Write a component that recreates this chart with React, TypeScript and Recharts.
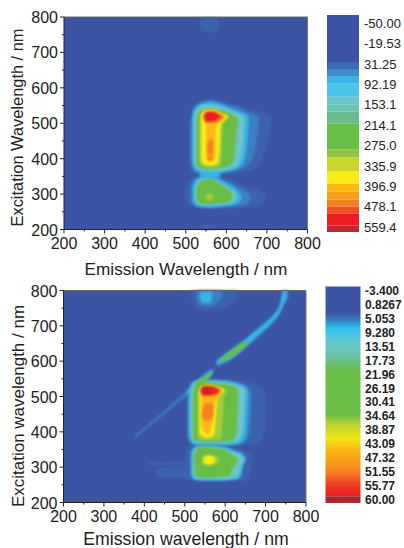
import React from 'react';
import {
  ComposedChart,
  Area,
  Bar,
  XAxis,
  YAxis,
  ReferenceLine,
} from 'recharts';

type Row = [number, number, number]; // emission, excitation low, excitation high

const axisTicks = [200, 250, 300, 350, 400, 450, 500, 550, 600, 650, 700, 750, 800];
const LEVELS = [
  '#3b55a4', '#3e62ad', '#3a80c4', '#36b4e8', '#6cc5c8', '#6abb8e', '#69bd45',
  '#a6cc3a', '#f9ed16', '#fdb813', '#f58220', '#ed1c24', '#b8252a',
];

// top map
const topBack: Row[] = [[200, 200, 800], [800, 200, 800]];
const topPeakFaint: Row[] = [[535, 770, 785], [542, 760, 797], [560, 756, 798], [575, 760, 797], [582, 770, 785]];
const topFootFaint: Row[] = [[540, 200, 212], [555, 200, 216], [575, 200, 212]];
const topHaloUp: Row[] = [[508, 385, 470], [515, 362, 535], [530, 355, 558], [560, 352, 568], [600, 358, 558], [640, 362, 545], [670, 372, 535], [695, 420, 528], [708, 480, 525], [712, 505, 515]];
const topHaloLow: Row[] = [[498, 290, 320], [510, 268, 340], [530, 262, 352], [560, 260, 355], [600, 260, 345], [640, 262, 325], [670, 265, 315], [690, 275, 305], [696, 285, 295]];
const topBlueUp: Row[] = [[512, 395, 500], [520, 365, 545], [535, 358, 557], [560, 355, 565], [600, 360, 553], [630, 368, 545], [655, 385, 530], [672, 430, 525], [680, 500, 520]];
const topBlueLow: Row[] = [[512, 280, 325], [525, 266, 345], [555, 262, 352], [590, 264, 340], [625, 266, 322], [650, 272, 308], [660, 285, 295]];
const topCyanUp: Row[] = [[516, 392, 510], [522, 372, 540], [535, 362, 553], [560, 358, 560], [590, 362, 552], [620, 370, 538], [640, 385, 530], [650, 430, 525], [655, 500, 518]];
const topCyanLow: Row[] = [[517, 280, 320], [525, 268, 340], [545, 263, 350], [570, 263, 348], [595, 266, 335], [620, 270, 318], [635, 280, 300], [638, 288, 295]];
const topNeck: Row[] = [[535, 346, 362], [585, 346, 362]];
const topPaleUp: Row[] = [[520, 385, 520], [528, 370, 542], [545, 365, 552], [570, 363, 552], [600, 368, 540], [625, 378, 530], [640, 420, 522], [645, 500, 515]];
const topPaleLow: Row[] = [[522, 285, 318], [532, 270, 340], [555, 268, 345], [585, 270, 332], [610, 274, 315], [625, 282, 300]];
const topGreenUp: Row[] = [[526, 385, 520], [535, 372, 535], [555, 370, 542], [580, 372, 536], [605, 380, 530], [618, 395, 522], [626, 480, 515], [630, 505, 510]];
const topGreenLow: Row[] = [[527, 285, 315], [537, 273, 338], [560, 272, 342], [585, 274, 328], [605, 278, 312], [615, 285, 298]];
const topLimeSpot: Row[] = [[550, 285, 298], [558, 282, 302], [568, 285, 298]];
const topLime: Row[] = [[534, 385, 520], [542, 378, 538], [565, 376, 540], [587, 382, 530], [592, 500, 528], [606, 515, 522]];
const topYellow: Row[] = [[538, 395, 520], [545, 384, 534], [560, 381, 537], [578, 385, 533], [583, 420, 528], [586, 495, 526], [597, 510, 524], [603, 516, 520]];
const topAmber: Row[] = [[550, 400, 528], [555, 394, 534], [565, 394, 534], [572, 402, 530], [575, 490, 526], [590, 510, 522], [596, 516, 520]];
const topOrangeHead: Row[] = [[543, 512, 524], [550, 501, 532], [565, 501, 534], [582, 505, 529], [594, 515, 520]];
const topOrangeMid: Row[] = [[553, 418, 440], [558, 410, 452], [565, 410, 456], [568, 425, 446]];
const topOrangeFoot: Row[] = [[555, 396, 404], [561, 392, 408], [566, 396, 404]];
const topRed: Row[] = [[546, 515, 522], [553, 505, 531], [565, 505, 532], [576, 509, 527], [585, 516, 520]];

const topBands: [number, Row[]][] = [
  [0, topBack], [1, topPeakFaint], [1, topFootFaint], [1, topHaloUp], [1, topHaloLow],
  [2, topBlueUp], [2, topBlueLow], [3, topCyanUp], [3, topCyanLow], [3, topNeck],
  [4, topPaleUp], [4, topPaleLow], [6, topGreenUp], [6, topGreenLow], [7, topLimeSpot],
  [7, topLime], [8, topYellow], [9, topAmber], [10, topOrangeHead], [10, topOrangeMid], [10, topOrangeFoot],
  [11, topRed],
];

// bottom map
const lowBack: Row[] = [[200, 200, 800], [800, 200, 800]];
const lowFaintA: Row[] = [[410, 306, 314], [520, 303, 316]];
const lowFaintB: Row[] = [[430, 272, 298], [515, 268, 300]];
const lowPeakHalo: Row[] = [[517, 770, 800], [530, 750, 800], [555, 745, 800], [600, 752, 800], [629, 775, 800]];
const lowPeakBlue: Row[] = [[530, 770, 800], [540, 757, 800], [565, 755, 800], [580, 765, 800], [592, 782, 800]];
const lowPeakCyan: Row[] = [[538, 778, 795], [545, 766, 798], [560, 764, 798], [567, 776, 795]];
const lowHaloUp: Row[] = [[505, 385, 500], [515, 365, 530], [540, 360, 550], [600, 360, 548], [660, 362, 540], [690, 375, 525], [698, 420, 510], [700, 490, 500]];
const lowHaloLow: Row[] = [[503, 275, 350], [512, 262, 360], [600, 260, 360], [650, 262, 345], [665, 300, 335]];
const lowStreakFaint: Row[] = [[378, 384, 392], [440, 442, 450], [500, 498, 512], [520, 512, 535]];
const lowBlueUp: Row[] = [[508, 385, 510], [515, 368, 535], [540, 362, 548], [600, 362, 546], [645, 368, 535], [660, 390, 525], [665, 500, 515]];
const lowStreakHalo: Row[] = [[578, 584, 604], [600, 594, 622], [650, 636, 664], [700, 688, 712], [735, 735, 762], [742, 755, 800], [756, 778, 800]];
const lowStreakA: Row[] = [[505, 505, 512], [520, 520, 532], [540, 540, 554], [560, 555, 572], [570, 565, 578]];
const lowStreakB: Row[] = [[580, 590, 600], [600, 598, 618], [620, 612, 635], [650, 640, 660], [680, 672, 690], [700, 692, 708], [720, 715, 731], [735, 738, 756], [745, 762, 800], [752, 780, 800]];
const lowCyanUp: Row[] = [[510, 390, 510], [518, 367, 540], [540, 362, 547], [600, 362, 544], [635, 367, 535], [652, 395, 525], [657, 500, 515]];
const lowCyanLow: Row[] = [[515, 275, 345], [525, 264, 358], [545, 262, 362], [600, 262, 358], [625, 265, 345], [637, 270, 342], [645, 305, 335], [651, 320, 328]];
const lowPaleUp: Row[] = [[514, 390, 510], [522, 372, 538], [540, 368, 544], [600, 368, 540], [630, 372, 532], [645, 410, 525], [650, 500, 518]];
const lowPaleLow: Row[] = [[520, 280, 340], [528, 267, 355], [545, 266, 358], [600, 266, 352], [628, 270, 340], [640, 300, 332], [645, 318, 328]];
const lowGreenUp: Row[] = [[520, 380, 505], [527, 374, 530], [545, 372, 538], [600, 372, 535], [622, 378, 528], [630, 420, 520], [632, 480, 515]];
const lowGreenLow: Row[] = [[524, 285, 335], [532, 272, 355], [548, 270, 358], [590, 272, 352], [610, 275, 340], [620, 300, 332], [630, 312, 327]];
const lowGreenStreakA: Row[] = [[525, 515, 538], [540, 530, 550], [555, 545, 560], [565, 555, 568]];
const lowGreenStreakB: Row[] = [[586, 596, 602], [595, 600, 612], [615, 612, 630], [640, 632, 650], [655, 650, 660]];
const lowLime: Row[] = [[532, 385, 510], [540, 378, 528], [565, 376, 532], [590, 380, 526], [598, 500, 522], [605, 512, 518]];
const lowLimeLens: Row[] = [[543, 308, 330], [557, 304, 336], [572, 306, 333], [585, 314, 326]];
const lowYellow: Row[] = [[537, 395, 515], [543, 388, 528], [557, 383, 531], [572, 390, 528], [577, 440, 526], [582, 500, 525], [596, 512, 520]];
const lowYellowLens: Row[] = [[547, 312, 326], [558, 308, 332], [568, 310, 330], [575, 316, 324]];
const lowAmber: Row[] = [[541, 420, 520], [547, 400, 528], [555, 392, 530], [563, 400, 530], [570, 430, 528], [578, 490, 525], [590, 510, 520]];
const lowOrangeHead: Row[] = [[541, 506, 522], [548, 500, 529], [562, 500, 530], [578, 504, 526], [590, 512, 518]];
const lowOrangeMid: Row[] = [[543, 440, 455], [550, 432, 480], [560, 432, 482], [570, 445, 475]];
const lowRed: Row[] = [[540, 512, 520], [546, 504, 528], [560, 504, 528], [575, 508, 525], [584, 514, 519]];
const lowCore: Row[] = [[546, 512, 518], [552, 508, 523], [558, 510, 522], [563, 513, 518]];

const lowBands: [number, Row[]][] = [
  [0, lowBack], [1, lowFaintA], [1, lowFaintB], [1, lowPeakHalo], [2, lowPeakBlue], [3, lowPeakCyan],
  [1, lowHaloUp], [1, lowHaloLow], [2, lowStreakFaint], [2, lowStreakHalo], [2, lowBlueUp], [3, lowStreakA], [3, lowStreakB],
  [3, lowCyanUp], [3, lowCyanLow], [4, lowPaleUp], [4, lowPaleLow], [6, lowGreenUp], [6, lowGreenLow],
  [6, lowGreenStreakA], [6, lowGreenStreakB], [7, lowLime], [7, lowLimeLens], [8, lowYellow], [8, lowYellowLens],
  [9, lowAmber], [10, lowOrangeHead], [10, lowOrangeMid], [11, lowRed], [12, lowCore],
];

// colour scales
const topScaleLabels = ['-50.00', '-19.53', '31.25', '92.19', '153.1', '214.1', '275.0', '335.9', '396.9', '478.1', '559.4'];
const topScaleSpans = [2.3, 0.39, 0.34, 0.34, 0.64, 0.39, 0.34, 0.59, 1.27, 0.39, 0.69, 0.59, 0.39, 0.39, 0.34, 0.34, 0.59, 0.32];
const topScaleColors = ['#3a53a4', '#3a6ab3', '#3a8ccb', '#36b4e8', '#4bc6ea', '#68c5cc', '#69c4b2', '#6abb8e', '#69bd45', '#8cc63f', '#cbd52b', '#f9ed16', '#fdb813', '#f9a11b', '#f58220', '#f04e23', '#ed1c24', '#c1272d'];

const lowScaleLabels = ['-3.400', '0.8267', '5.053', '9.280', '13.51', '17.73', '21.96', '26.19', '30.41', '34.64', '38.87', '43.09', '47.32', '51.55', '55.77', '60.00'];
const lowScaleStops = ['#3b55a4', '#3b55a4', '#3a66b0', '#2fc0ee', '#5fc6d6', '#69c4a8', '#68bd5a', '#69bd45', '#69bd45', '#69bd45', '#b5d334', '#f2e716', '#fdb913', '#f99d1c', '#f47a20', '#ee3d24', '#ed1c24'];
const lowScaleOffsets = [0, 0.34, 0.39, 0.55, 0.7, 0.9, 1.06, 1.15, 1.4, 1.68, 1.8, 2.0, 2.13, 2.3, 2.45, 2.6, 2.75];

const FONT = '"Liberation Sans", Arial, sans-serif';
const INK = '#222';

function XTick({ x, y, payload }: any) {
  const major = payload.value % 100 === 0;
  return (
    <g>
      <line x1={x} x2={x} y1={y} y2={y + (major ? 4 : 2)} stroke={INK} />
      {major && (
        <text x={x} y={y + 19} textAnchor="middle" fontSize={16} fontFamily={FONT} fill={INK}>
          {payload.value}
        </text>
      )}
    </g>
  );
}

function YTick({ x, y, payload }: any) {
  const major = payload.value % 100 === 0;
  return (
    <g>
      <line x1={x} x2={x - (major ? 4 : 2)} y1={y} y2={y} stroke={INK} />
      {major && (
        <text x={x - 6} y={y + 6} textAnchor="end" fontSize={16} fontFamily={FONT} fill={INK}>
          {payload.value}
        </text>
      )}
    </g>
  );
}

function ContourMap({ bands, id, xLabel, yLabel, xSize, ySize, margin, xPos, yPos }: any) {
  return (
    <ComposedChart width={325} height={290} margin={margin}>
      <defs>
        <filter id={id} filterUnits="userSpaceOnUse" x="0" y="0" width="325" height="290">
          <feGaussianBlur stdDeviation="1.1" />
        </filter>
      </defs>
      <XAxis
        type="number"
        dataKey="x"
        domain={[200, 800]}
        ticks={axisTicks}
        interval={0}
        height={45.5}
        tickLine={false}
        tickSize={0}
        tickMargin={0}
        stroke={INK}
        tick={<XTick />}
        label={{ value: xLabel, position: xPos, fontSize: xSize, fontFamily: FONT, fill: INK, style: { textAnchor: 'middle', dominantBaseline: 'central' } }}
      />
      <YAxis
        type="number"
        domain={[200, 800]}
        ticks={axisTicks}
        interval={0}
        width={52}
        tickLine={false}
        tickSize={0}
        tickMargin={0}
        stroke={INK}
        tick={<YTick />}
        label={{ value: yLabel, angle: -90, position: yPos, fontSize: ySize, fontFamily: FONT, fill: INK, style: { textAnchor: 'middle', dominantBaseline: 'central' } }}
      />
      {bands.map(([level, rows]: [number, Row[]], i: number) => (
        <Area
          key={i}
          data={rows.map(([x, lo, hi]) => ({ x, range: [lo, hi] }))}
          dataKey="range"
          type={level === 0 ? 'linear' : 'monotone'}
          stroke="none"
          fill={LEVELS[level]}
          fillOpacity={1}
          dot={false}
          activeDot={false}
          filter={level === 0 ? undefined : `url(#${id})`}
          isAnimationActive={false}
        />
      ))}
      <ReferenceLine y={800} stroke="#666" />
      <ReferenceLine x={800} stroke="#777" />
    </ComposedChart>
  );
}

function ScaleTick({ x, y, index, labels, bold, size }: any) {
  return (
    <text x={x + 5} y={y + 4.5} fontSize={size} fontWeight={bold ? 700 : 400} fontFamily={FONT} fill={INK}>
      {labels[index]}
    </text>
  );
}

function TopScale() {
  const row: Record<string, number | string> = { name: 'scale' };
  topScaleSpans.forEach((s, i) => (row[`s${i}`] = s));
  return (
    <ComposedChart width={84} height={250} data={[row]} margin={{ top: 15, right: 0, left: 7, bottom: 18 }} barCategoryGap={0}>
      <XAxis dataKey="name" hide />
      <YAxis
        orientation="right"
        type="number"
        reversed
        width={45}
        domain={[0, 10.64]}
        ticks={topScaleLabels.map((_, i) => i + 0.41)}
        interval={0}
        axisLine={false}
        tickLine={false}
        tickSize={0}
        tickMargin={0}
        tick={<ScaleTick labels={topScaleLabels} size={13} />}
      />
      {topScaleSpans.map((_, i) => (
        <Bar key={i} dataKey={`s${i}`} stackId="scale" fill={topScaleColors[i]} isAnimationActive={false} />
      ))}
    </ComposedChart>
  );
}

function LowScale() {
  const total = 15.54;
  const row = { name: 'scale', ramp: 15.05, tail: 0.49 };
  return (
    <ComposedChart width={84} height={240} data={[row]} margin={{ top: 11.5, right: 0, left: 5.5, bottom: 12 }} barCategoryGap={0}>
      <defs>
        <linearGradient id="lowRamp" x1="0" y1="0" x2="0" y2="1">
          {lowScaleStops.map((c, i) => (
            <stop key={i} offset={lowScaleOffsets[i] / 2.75} stopColor={c} />
          ))}
        </linearGradient>
      </defs>
      <XAxis dataKey="name" hide />
      <YAxis
        orientation="right"
        type="number"
        reversed
        width={44}
        domain={[0, total]}
        ticks={lowScaleLabels.map((_, i) => i + 0.29)}
        interval={0}
        axisLine={false}
        tickLine={false}
        tickSize={0}
        tickMargin={0}
        tick={<ScaleTick labels={lowScaleLabels} size={12} bold />}
      />
      <Bar dataKey="ramp" stackId="scale" fill="url(#lowRamp)" isAnimationActive={false} />
      <Bar dataKey="tail" stackId="scale" fill="#a8272b" isAnimationActive={false} />
    </ComposedChart>
  );
}

const place = (left: number, top: number): React.CSSProperties => ({ position: 'absolute', left, top });

export default function App() {
  return (
    <div style={{ position: 'absolute', left: 0, top: 0, width: 404, height: 548, background: '#fff', overflow: 'hidden' }}>
      <div style={place(0, 0)}>
        <ContourMap
          bands={topBands}
          id="softTop"
          xLabel="Emission Wavelength / nm"
          yLabel="Excitation Wavelength / nm"
          xSize={17.2}
          ySize={16.4}
          xPos={{ x: 122, y: 39.5 }}
          yPos={{ x: 5, y: 110.5 }}
          margin={{ top: 17, right: 17.5, left: 12, bottom: 15 }}
        />
      </div>
      <div style={place(0, 275)}>
        <ContourMap
          bands={lowBands}
          id="softLow"
          xLabel="Emission wavelength / nm"
          yLabel="Excitation wavelength / nm"
          xSize={17.7}
          ySize={17}
          xPos={{ x: 122.5, y: 36.5 }}
          yPos={{ x: 6.5, y: 115.5 }}
          margin={{ top: 15.5, right: 19, left: 11.5, bottom: 17 }}
        />
      </div>
      <div style={place(320, 0)}>
        <TopScale />
      </div>
      <div style={place(320, 275)}>
        <LowScale />
      </div>
    </div>
  );
}
